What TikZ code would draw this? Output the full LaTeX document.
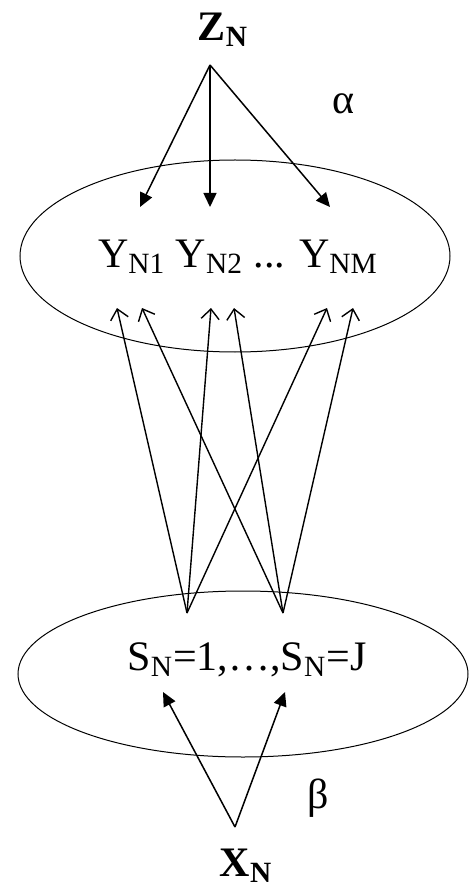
\documentclass[tikz,border=0pt]{standalone}
\usepackage{fontspec}
\setmainfont{Liberation Serif}
\usetikzlibrary{arrows.meta}
\begin{document}
\begin{tikzpicture}[x=0.5pt, y=-0.5pt, font=\fontsize{21}{25}\selectfont,
  lbl/.style={inner sep=0pt},
  solid arrow/.style={line width=0.75pt, -{Triangle[length=7pt, width=6.5pt]}},
  open arrow/.style={line width=0.7pt, -{Straight Barb[length=5pt, width=9pt]}}]
  \useasboundingbox (0,0) rectangle (469,887);

  % Ellipsen
  \draw[line width=0.5pt] (235,256) ellipse [x radius=215, y radius=96];
  \draw[line width=0.5pt] (243,674) ellipse [x radius=225, y radius=83];

  % Texte
  \node[lbl] (z) at (223,30) {\textbf{Z\textsubscript{N}}};
  \node[lbl] (alpha) at (343,104) {α};
  \node[lbl] (y) at (238,257) {Y\textsubscript{N1} Y\textsubscript{N2} ... Y\textsubscript{NM}};
  \node[lbl] (s) at (247,660) {S\textsubscript{N}=1,…,S\textsubscript{N}=J};
  \node[lbl] (beta) at (318,798) {β};
  \node[lbl] (x) at (246,866) {\textbf{X\textsubscript{N}}};

  % Punkte
  \coordinate (zs) at (210,65);
  \coordinate (za) at (140,207);
  \coordinate (zb) at (210,207);
  \coordinate (zc) at (330,207);
  \coordinate (y1) at (117,308);
  \coordinate (y2) at (142,308);
  \coordinate (y3) at (211,308);
  \coordinate (y4) at (234,308);
  \coordinate (y5) at (327,308);
  \coordinate (y6) at (353,308);
  \coordinate (s1) at (187,613);
  \coordinate (sj) at (283,613);
  \coordinate (xs) at (235,827);
  \coordinate (xa) at (163,692);
  \coordinate (xb) at (285,692);

  % Z -> Y
  \draw[solid arrow] (zs) -- (za);
  \draw[solid arrow] (zs) -- (zb);
  \draw[solid arrow] (zs) -- (zc);

  % S -> Y
  \draw[open arrow] (s1) -- (y1);
  \draw[open arrow] (s1) -- (y3);
  \draw[open arrow] (s1) -- (y5);
  \draw[open arrow] (sj) -- (y2);
  \draw[open arrow] (sj) -- (y4);
  \draw[open arrow] (sj) -- (y6);

  % X -> S
  \draw[solid arrow] (xs) -- (xa);
  \draw[solid arrow] (xs) -- (xb);
\end{tikzpicture}
\end{document}
